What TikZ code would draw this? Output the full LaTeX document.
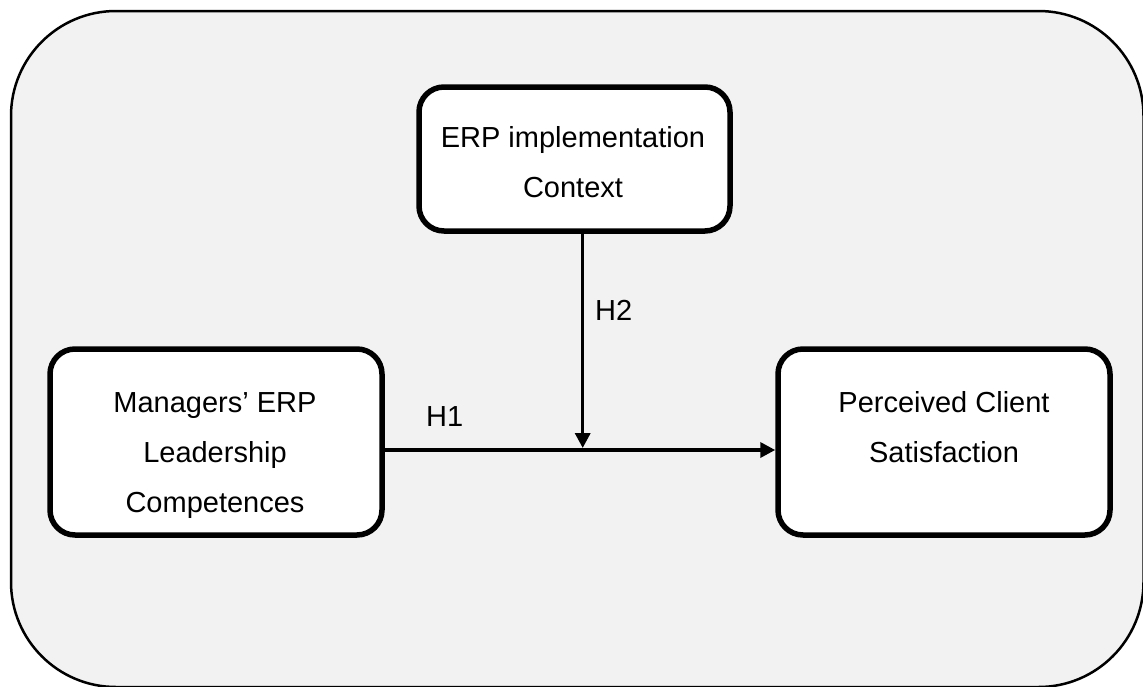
\documentclass[tikz,border=0pt]{standalone}
\usepackage{fontspec}
\setmainfont{Liberation Sans}
\usetikzlibrary{arrows.meta}
\begin{document}
\begin{tikzpicture}[x=1pt,y=-1pt,
  panel/.style={draw=black,line width=2.5pt,fill=panelgray,rounded corners=105pt},
  construct/.style={draw=black,line width=5.5pt,fill=white,rounded corners=25pt,inner sep=0pt},
  label/.style={font=\fontsize{29}{50}\selectfont,align=center,inner sep=0pt},
  hyp/.style={font=\fontsize{29}{35}\selectfont,inner sep=0pt,anchor=base west},
  link/.style={line width=3.5pt,-{Triangle[length=15pt,width=15pt]}}]
\definecolor{panelgray}{HTML}{F2F2F2}
\useasboundingbox (0,0) rectangle (1143,686);
\clip (0,0) rectangle (1143,686);
% outer panel
\draw[panel] (11,11) rectangle (1143.5,687);
% construct boxes
\node[construct,minimum width=311pt,minimum height=144pt] (ctx) at (574.5,159) {};
\node[construct,minimum width=332pt,minimum height=186pt] (lead) at (216,442) {};
\node[construct,minimum width=332pt,minimum height=186pt] (sat) at (944,442) {};
% box texts (anchored on the baseline of the last line)
\node[label,anchor=base] (ctxtxt) at (573,197) {ERP implementation\\Context};
\node[label,anchor=base] (leadtxt) at (215,512) {Managers’ ERP\\Leadership\\Competences};
\node[label,anchor=base] (sattxt) at (944,462) {Perceived Client\\Satisfaction};
% connectors
\coordinate (hline) at (0,450);
\coordinate (join) at (582.7,448);
\draw[link] (lead.east |- hline) -- (sat.west |- hline);
\draw[link] (ctx.south -| join) -- (join);
% hypothesis labels
\node[hyp] (h1) at (426,426) {H1};
\node[hyp] (h2) at (595,320) {H2};
\end{tikzpicture}
\end{document}
